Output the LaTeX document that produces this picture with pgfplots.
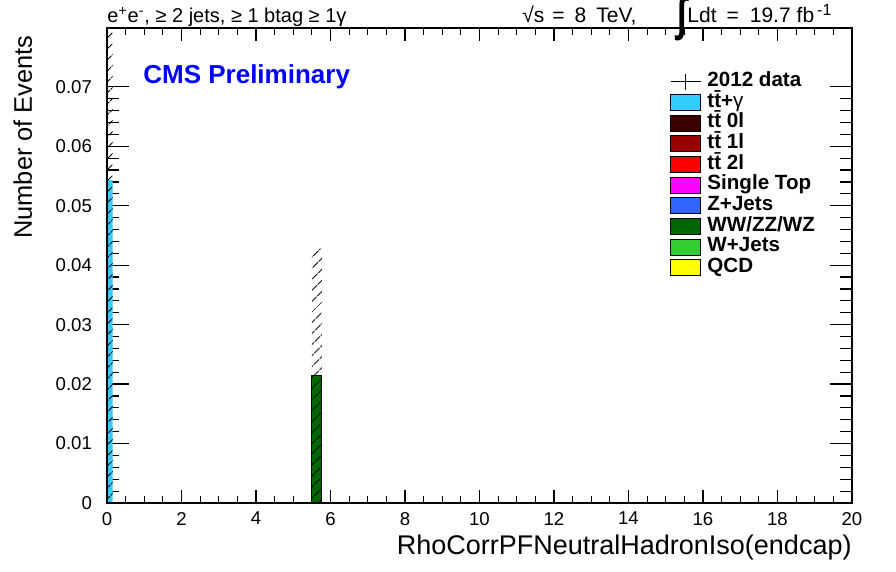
\documentclass[border=0pt]{standalone}
\usepackage{fontspec}
\setmainfont{Liberation Sans}
\usepackage{pgfplots}
\pgfplotsset{compat=1.18}
\usetikzlibrary{patterns.meta}
\definecolor{ttg}{RGB}{51,204,255}
\definecolor{tt0}{RGB}{58,0,0}
\definecolor{tt1}{RGB}{153,0,0}
\definecolor{tt2}{RGB}{255,0,0}
\definecolor{stop}{RGB}{255,0,255}
\definecolor{zjets}{RGB}{51,102,255}
\definecolor{vv}{RGB}{0,102,0}
\definecolor{wjets}{RGB}{51,204,51}
\definecolor{qcd}{RGB}{255,255,0}
\definecolor{cmsblue}{RGB}{0,0,255}
\pgfplotsset{
  common/.style={
    scale only axis, width=372.5pt, height=237.5pt,
    xmin=0, xmax=20, ymin=0, ymax=0.0799,
    at={(0pt,0pt)}, anchor=south west,
    tick align=inside,
    xtick pos=both, ytick pos=both,
    axis line style={black, line width=0.6pt},
    tick style={black, line width=0.6pt},
    tick label style={font=\fontsize{9.3}{9.3}\selectfont},
    /pgf/number format/assume math mode=true,
  },
  boxleg/.style={legend image code/.code={\draw[##1] (0pt,-4pt) rectangle (15pt,4pt);}},
  hatch/.style={pattern={Lines[angle=45,distance=4pt,line width=0.5pt]}, pattern color=black, draw=none},
}
\begin{document}
\begin{tikzpicture}[x=1pt,y=1pt]
\begin{axis}[common,
  xtick=\empty,
  ytick={0,0.01,0.02,0.03,0.04,0.05,0.06,0.07},
  minor y tick num=4,
  major tick length=11pt, minor tick length=6pt,
  scaled y ticks=false,
  yticklabel style={/pgf/number format/fixed, /pgf/number format/precision=2, xshift=-4pt},
  ylabel={Number of Events},
  ylabel style={font=\fontsize{12.7}{12.7}\selectfont, at={(axis description cs:-0.1007,0.9853)}, anchor=base east, inner sep=0pt},
  legend style={at={(rel axis cs:0.7557,0.9100)}, anchor=north west, draw=none, fill=none,
    font=\bfseries\fontsize{10.3}{10.3}\selectfont, inner sep=0pt, row sep=0pt, column sep=3pt,
    nodes={inner sep=0pt, text height=7.6pt, text depth=2.75pt}},
  legend cell align=left,
]
% ttbar+gamma stack and its uncertainty band
\addplot[const plot, fill=ttg, draw=none, forget plot] coordinates {(0,0.0543) (0.15,0.0543)} \closedcycle;
\addplot[const plot, hatch, forget plot] coordinates {(0,0.12) (0.15,0.12)} \closedcycle;
% WW/ZZ/WZ and its uncertainty band
\addplot[const plot, fill=vv, draw=black, line width=0.5pt, forget plot] coordinates {(5.5,0.0214) (5.77,0.0214)} \closedcycle;
\addplot[const plot, hatch, forget plot] coordinates {(5.5,0.0428) (5.77,0.0428)} \closedcycle;

\addlegendimage{legend image code/.code={\draw[black,line width=0.5pt] (0pt,0pt) -- (15pt,0pt); \draw[black,line width=0.5pt] (7.5pt,-4pt) -- (7.5pt,4pt);}}
\addlegendentry{2012 data}
\addlegendimage{boxleg, fill=ttg, draw=black}
\addlegendentry{t\={t}+\textmd{γ}}
\addlegendimage{boxleg, fill=tt0, draw=black}
\addlegendentry{t\={t} 0l}
\addlegendimage{boxleg, fill=tt1, draw=black}
\addlegendentry{t\={t} 1l}
\addlegendimage{boxleg, fill=tt2, draw=black}
\addlegendentry{t\={t} 2l}
\addlegendimage{boxleg, fill=stop, draw=black}
\addlegendentry{Single Top}
\addlegendimage{boxleg, fill=zjets, draw=black}
\addlegendentry{Z+Jets}
\addlegendimage{boxleg, fill=vv, draw=black}
\addlegendentry{WW/ZZ/WZ}
\addlegendimage{boxleg, fill=wjets, draw=black}
\addlegendentry{W+Jets}
\addlegendimage{boxleg, fill=qcd, draw=black}
\addlegendentry{QCD}

\node[anchor=west, inner sep=0pt, text=cmsblue, font=\bfseries\fontsize{13}{13}\selectfont] at (rel axis cs:0.0483,0.8968) {CMS Preliminary};
\end{axis}
\begin{axis}[common,
  ytick=\empty,
  xtick={0,2,4,6,8,10,12,14,16,18,20},
  minor x tick num=3,
  major tick length=6.5pt, minor tick length=3.5pt,
  xticklabel style={yshift=-1pt},
  xlabel={RhoCorrPFNeutralHadronIso(endcap)},
  xlabel style={font=\fontsize{13.5}{13.5}\selectfont, at={(axis description cs:1,-0.1074)}, anchor=base east, inner sep=0pt},
]
\end{axis}
\node[anchor=base west, inner sep=0pt, font=\fontsize{10}{10}\selectfont] at (0,240) {e\textsuperscript{+}e\textsuperscript{-}, ≥ 2 jets, ≥ 1 btag ≥ 1γ};
\node[anchor=base west, inner sep=0pt, font=\fontsize{10.5}{10.5}\selectfont] at (207.5,240) {√s\hspace{4pt}=\hspace{5pt}8\hspace{5pt}TeV,};
\node[anchor=center, inner sep=0pt, font=\bfseries\fontsize{10}{10}\selectfont] at (287.5,242) {\scalebox{1.7}[2.35]{∫}};
\node[anchor=base west, inner sep=0pt, font=\fontsize{10.5}{10.5}\selectfont] at (290,240) {Ldt\hspace{5pt}=\hspace{5.5pt}19.7\hspace{3pt}fb\hspace{1.5pt}\raisebox{3.5pt}{\fontsize{8}{8}\selectfont -1}};
\pgfresetboundingbox
\path[use as bounding box] (-53.5,-34.5) rectangle (394.5,251.5);
\end{tikzpicture}
\end{document}
